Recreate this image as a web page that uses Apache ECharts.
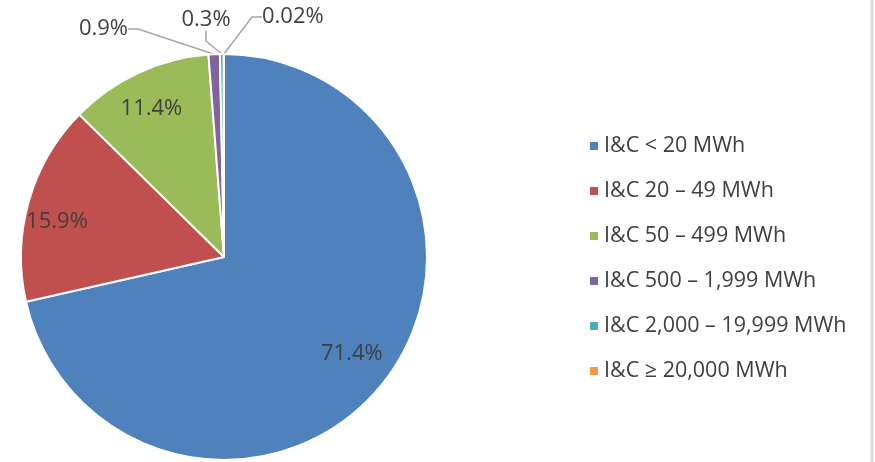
<!DOCTYPE html>
<html>
<head>
<meta charset="utf-8">
<script src="https://cdn.jsdelivr.net/npm/echarts@6/dist/echarts.min.js"></script>
<style>html,body{margin:0;padding:0;background:#fff;}#c{width:875px;height:462px;}</style>
</head>
<body>
<div id="c"></div>
<script>
const categories = ['I&C < 20 MWh','I&C 20 – 49 MWh','I&C 50 – 499 MWh','I&C 500 – 1,999 MWh','I&C 2,000 – 19,999 MWh','I&C ≥ 20,000 MWh'];
const shares = [71.4, 15.9, 11.4, 0.9, 0.3, 0.02];
const labelTexts = ['71.4%','15.9%','11.4%','0.9%','0.3%','0.02%'];
const colors = ['#4F81BD','#C0504D','#9BBB59','#8064A2','#4BACC6','#F79646'];

const FONT = '"Open Sans", sans-serif';
const TXT = '#404040';
const R = 203;
const C = [224, 257];

// label anchors for the tiny slices, as offsets from the pie centre (Excel manual placement)
const smallLabelPos = {
  3: { dx: -96, dy: -228, align: 'right' },
  4: { dx: -18, dy: -237, align: 'center' },
  5: { dx: 38, dy: -240, align: 'left' }
};
// small nudges of the inside labels (Excel best-fit placement)
const insideNudge = { 0: [-3, -8], 1: [-6, 11], 2: [-2, 4] };

const mainData = categories.map((n, i) => {
  const small = shares[i] < 5;
  return {
    name: n, value: shares[i], itemStyle: { color: colors[i] },
    label: { show: small }, labelLine: { show: small }
  };
});

const innerLabelData = categories.map((n, i) => ({
  name: n, value: shares[i],
  label: { show: shares[i] >= 5 }
}));

const chart = echarts.init(document.getElementById('c'), null, { renderer: 'canvas' });
chart.setOption({
  animation: false,
  backgroundColor: '#ffffff',
  color: colors,
  legend: {
    orient: 'vertical',
    left: 583,
    top: 130,
    icon: 'rect',
    itemWidth: 10,
    itemHeight: 10,
    itemGap: 23,
    textStyle: { fontFamily: FONT, fontSize: 21.5, color: TXT, lineHeight: 21, padding: [0, 0, 0, 0] },
    data: categories
  },
  graphic: [{
    type: 'line', shape: { x1: 872, y1: 0, x2: 872, y2: 462 },
    style: { stroke: '#D9D9D9', lineWidth: 3 }
  }],
  series: [
    {
      type: 'pie',
      center: C,
      radius: [0, R],
      startAngle: 90,
      clockwise: true,
      avoidLabelOverlap: false,
      minShowLabelAngle: 0,
      itemStyle: { borderColor: '#ffffff', borderWidth: 2 },
      label: {
        position: 'outside',
        fontFamily: FONT, fontSize: 22, color: TXT,
        formatter: p => labelTexts[p.dataIndex]
      },
      labelLine: { length: 15, length2: 10, lineStyle: { color: '#A6A6A6', width: 1.5 } },
      labelLayout: function (p) {
        const s = smallLabelPos[p.dataIndex];
        if (!s) return {};
        return { x: C[0] + s.dx, y: C[1] + s.dy, align: s.align, verticalAlign: 'middle', hideOverlap: false, moveOverlap: false };
      },
      emphasis: { disabled: true },
      data: mainData
    },
    {
      type: 'pie',
      center: C,
      radius: [R * 0.62, R],
      startAngle: 90,
      clockwise: true,
      silent: true,
      avoidLabelOverlap: false,
      itemStyle: { color: 'rgba(0,0,0,0)', borderWidth: 0 },
      label: {
        position: 'inside',
        fontFamily: FONT, fontSize: 22, color: TXT,
        formatter: p => labelTexts[p.dataIndex]
      },
      labelLine: { show: false },
      labelLayout: function (p) {
        const n = insideNudge[p.dataIndex];
        if (!n) return {};
        const r = p.labelRect;
        return { x: r.x + r.width / 2 + n[0], y: r.y + r.height / 2 + n[1], align: 'center', verticalAlign: 'middle' };
      },
      emphasis: { disabled: true },
      data: innerLabelData
    }
  ]
});
</script>
</body>
</html>
